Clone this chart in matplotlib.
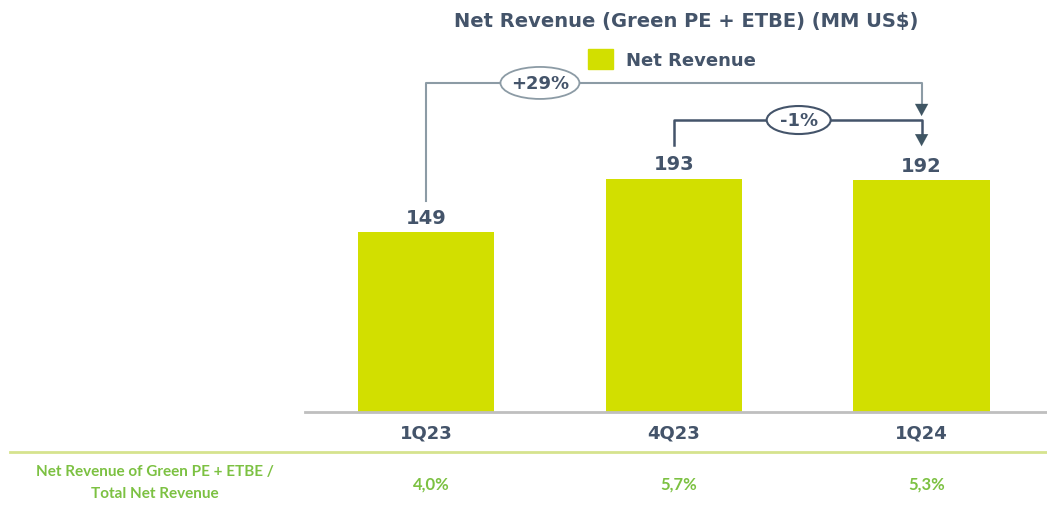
import matplotlib
matplotlib.use("Agg")
import matplotlib.pyplot as plt
from matplotlib.patches import Ellipse
from matplotlib.lines import Line2D

categories = ["1Q23", "4Q23", "1Q24"]
net_revenue = [149, 193, 192]
share_labels = ["4,0%", "5,7%", "5,3%"]
growth_labels = ["+29%", "-1%"]
title = "Net Revenue (Green PE + ETBE) (MM US$)"
legend_label = "Net Revenue"
row_label = "Net Revenue of Green PE + ETBE /\nTotal Net Revenue"

BAR = "#D2DF00"
DARK = "#44546A"
HEAD = "#3F5563"
LIGHT = "#8C9BA5"
GREEN = "#7CC142"

fig = plt.figure(figsize=(10.47, 5.10), dpi=100)
W, H = 1047, 510
ax = fig.add_axes([305 / W, (H - 413) / H, (W - 305) / W, 413 / H])
px = 1.208  # pixels per data unit
ax.set_ylim(0, 413 / px)
ax.set_xlim(-0.488, 2.506)

x = list(range(len(categories)))
ax.bar(x, net_revenue, width=0.55, color=BAR, zorder=2)
for xi, v in zip(x, net_revenue):
    ax.text(xi, v + 15 / px, str(v), ha="center", va="center", fontsize=14,
            fontweight="bold", color=DARK)

for s in ["top", "right", "left"]:
    ax.spines[s].set_visible(False)
ax.spines["bottom"].set_color("#BFBFBF")
ax.spines["bottom"].set_linewidth(2)
ax.set_yticks([])
ax.set_xticks(x)
ax.set_xticklabels(categories, fontsize=13, fontweight="bold", color=DARK)
ax.tick_params(axis="x", length=0, pad=8)

HEAD_LEN = 12 / px
arrow_style = dict(arrowstyle="-|>,head_length=0.86,head_width=0.47",
                   color=HEAD, lw=0.1, shrinkA=0, shrinkB=0)

# bracket 1: 1Q23 -> 1Q24
y1 = 272.4
tip1 = 245
ax.plot([0, 0, 2, 2], [net_revenue[0] + 25.7, y1, y1, tip1 + HEAD_LEN - 1],
        color=LIGHT, lw=1.5, zorder=3)
ax.annotate("", xy=(2, tip1), xytext=(2, tip1 + HEAD_LEN), arrowprops=arrow_style,
            zorder=3)
e1 = Ellipse((0.46, y1), 79 / 248, 32 / px, facecolor="white", edgecolor=LIGHT,
             lw=1.3, zorder=4)
ax.add_patch(e1)
ax.text(0.46, y1, growth_labels[0], ha="center", va="center", fontsize=13,
        fontweight="bold", color=DARK, zorder=5)

# bracket 2: 4Q23 -> 1Q24
y2 = 241.7
tip2 = net_revenue[2] + 28
ax.plot([1, 1, 2, 2], [net_revenue[1] + 28, y2, y2, tip2 + HEAD_LEN - 1],
        color=DARK, lw=1.8, zorder=3)
ax.annotate("", xy=(2, tip2), xytext=(2, tip2 + HEAD_LEN), arrowprops=arrow_style,
            zorder=3)
e2 = Ellipse((1.504, y2), 64 / 248, 28 / px, facecolor="white", edgecolor=DARK,
             lw=1.5, zorder=4)
ax.add_patch(e2)
ax.text(1.504, y2, growth_labels[1], ha="center", va="center", fontsize=13,
        fontweight="bold", color=DARK, zorder=5)

# title and legend
fig.text(686 / W, 1 - 22 / H, title, ha="center", va="center", fontsize=14,
         fontweight="bold", color=DARK)
leg = fig.legend(handles=[plt.Rectangle((0, 0), 1, 1, color=BAR)],
                 labels=[legend_label], loc="center", bbox_to_anchor=(672 / W, 1 - 60 / H),
                 frameon=False, prop=dict(size=13, weight="bold"),
                 handlelength=1.4, handleheight=1.3, handletextpad=0.7)
for t in leg.get_texts():
    t.set_color(DARK)

# separator line and bottom row
fig.add_artist(Line2D([10 / W, 1.0], [1 - 453 / H, 1 - 453 / H], color="#D6E38E", lw=2,
                      transform=fig.transFigure))
fig.text(155 / W, 1 - 483 / H, row_label, ha="center", va="center", fontsize=11,
         fontweight="bold", color=GREEN, family=["Lato", "DejaVu Sans"], linespacing=1.75)
for xi, lab in zip(x, share_labels):
    xf = fig.transFigure.inverted().transform(ax.transData.transform((xi, 0)))[0]
    fig.text(xf + 5 / W, 1 - 485 / H, lab, ha="center", va="center", fontsize=12,
             fontweight="bold", color=GREEN, family=["Lato", "DejaVu Sans"])

fig.savefig("out.png", dpi=100)
